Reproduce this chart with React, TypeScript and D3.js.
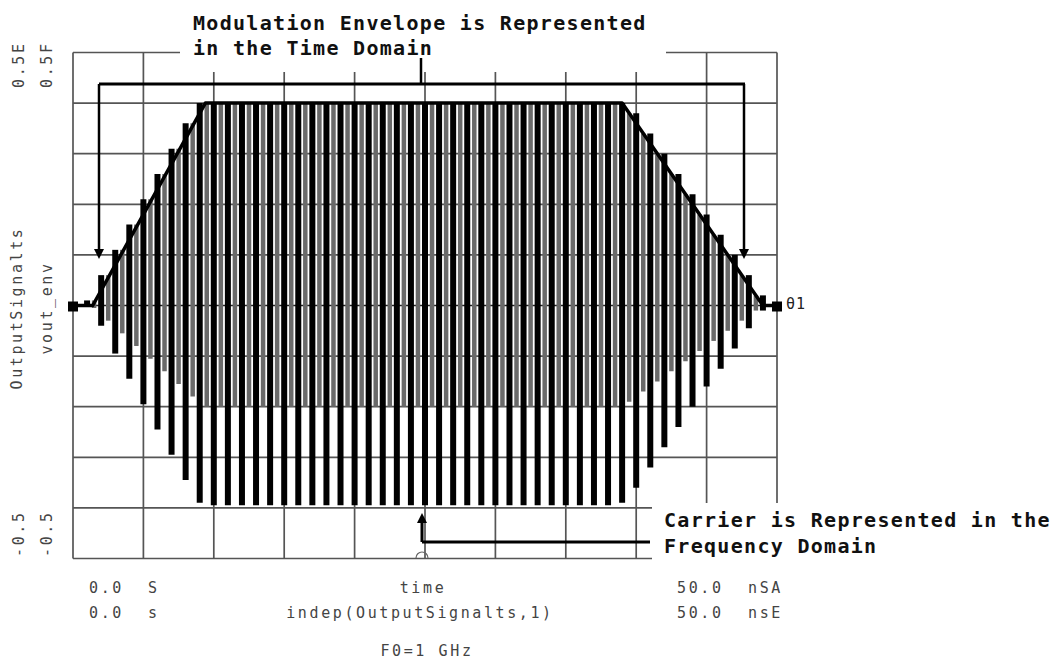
import React from 'react';
import * as d3 from 'd3';

// ---- data ----
const timeDomain = [0, 50]; // ns
const valueDomain = [-0.5, 0.5];
const xGridTicks = [0, 5, 10, 15, 20, 25, 30, 35, 40, 45, 50];
const yGridTicks = [-0.5, -0.4, -0.3, -0.2, -0.1, 0, 0.1, 0.2, 0.3, 0.4, 0.5];

// modulation envelope (|vout_env|) breakpoints
const envTime = [0, 1.4, 9.4, 39, 49, 50];
const envValue = [0, 0, 0.4, 0.4, 0, 0];

// carrier lower peaks, one per ns (t = 0..50)
const lowerPeaks = [
  0, 0, -0.04, -0.095, -0.145, -0.195, -0.245, -0.295, -0.345, -0.39,
  -0.395, -0.395, -0.395, -0.395, -0.395, -0.395, -0.395, -0.395, -0.395, -0.395,
  -0.395, -0.395, -0.395, -0.395, -0.395, -0.395, -0.395, -0.395, -0.395, -0.395,
  -0.395, -0.395, -0.395, -0.395, -0.395, -0.395, -0.395, -0.395, -0.395, -0.39,
  -0.36, -0.32, -0.28, -0.24, -0.2, -0.16, -0.125, -0.085, -0.045, -0.01, 0,
];
// carrier upper peaks, one per ns (t = 0.5..49.5)
const upperPeaks = [
  0, 0.01, 0.06, 0.11, 0.16, 0.21, 0.26, 0.31, 0.36, 0.4,
  0.4, 0.4, 0.4, 0.4, 0.4, 0.4, 0.4, 0.4, 0.4, 0.4,
  0.4, 0.4, 0.4, 0.4, 0.4, 0.4, 0.4, 0.4, 0.4, 0.4,
  0.4, 0.4, 0.4, 0.4, 0.4, 0.4, 0.4, 0.4, 0.4, 0.38,
  0.34, 0.3, 0.26, 0.22, 0.18, 0.14, 0.1, 0.06, 0.02, 0,
];

const markerTimes = [0, 50];

const W = 1055;
const H = 660;
const MONO = "'DejaVu Sans Mono', monospace";

export default function App() {
  const x = d3.scaleLinear().domain(timeDomain).range([73, 777]);
  const y = d3.scaleLinear().domain(valueDomain).range([558.5, 52.5]);

  const envLine = d3
    .line<number>()
    .x((_, i) => x(envTime[i]))
    .y((v) => y(v));

  const gridColor = '#555';
  const labelColor = '#444';

  const blackBars = lowerPeaks.map((lo, k) => {
    const a = k > 0 ? upperPeaks[k - 1] : 0;
    const b = k < upperPeaks.length ? upperPeaks[k] : 0;
    const hi = Math.max(a, b);
    return { t: k, hi, lo };
  });

  const grayBars = upperPeaks.map((hi, k) => ({ t: k + 0.5, hi, lo: -0.5 * hi }));

  const annot = {
    fontFamily: MONO,
    fontWeight: 'bold' as const,
    fontSize: 20,
    letterSpacing: 1.3,
    fill: '#111',
  };
  const lab = {
    fontFamily: MONO,
    fontSize: 15,
    letterSpacing: 2.6,
    fill: labelColor,
  };

  return (
    <svg
      width={W}
      height={H}
      viewBox={`0 0 ${W} ${H}`}
      style={{ position: 'absolute', left: 0, top: 0, background: '#fff' }}
    >
      <rect x={0} y={0} width={W} height={H} fill="#fff" />

      {/* grid */}
      <g stroke={gridColor} strokeWidth={1.7}>
        {xGridTicks.map((t) => (
          <line key={'gx' + t} x1={x(t)} x2={x(t)} y1={y(0.5)} y2={y(-0.5)} />
        ))}
        {yGridTicks.map((v) => (
          <line
            key={'gy' + v}
            x1={x(0)}
            x2={x(50)}
            y1={y(v)}
            y2={y(v)}
            stroke={v === 0 ? '#222' : gridColor}
          />
        ))}
      </g>

      {/* white label boxes hiding grid */}
      <rect x={180} y={0} width={486} height={72} fill="#fff" />
      <rect x={652} y={503} width={W - 652} height={60} fill="#fff" />

      {/* carrier: gray sub-bars */}
      <g stroke="#6a6a6a" strokeWidth={4.5}>
        {grayBars
          .filter((b) => b.hi > 0)
          .map((b) => (
            <line key={'gb' + b.t} x1={x(b.t)} x2={x(b.t)} y1={y(b.hi)} y2={y(b.lo)} />
          ))}
      </g>
      {/* carrier: black bars */}
      <g stroke="#000" strokeWidth={6}>
        {blackBars
          .filter((b) => b.hi > 0 || b.lo < 0)
          .map((b) => (
            <line key={'bb' + b.t} x1={x(b.t)} x2={x(b.t)} y1={y(b.hi)} y2={y(b.lo)} />
          ))}
      </g>

      {/* envelope */}
      <path
        d={envLine(envValue) || ''}
        fill="none"
        stroke="#000"
        strokeWidth={3.5}
        strokeLinejoin="round"
      />

      {/* end markers */}
      {markerTimes.map((t) => (
        <rect key={'m' + t} x={x(t) - 5} y={y(0) - 4} width={10} height={10} fill="#000" />
      ))}
      <text x={786} y={309} fontFamily={MONO} fontSize={15} fill="#222" letterSpacing={1}>
        θ1
      </text>

      {/* modulation envelope annotation */}
      <text x={193} y={30} {...annot}>
        Modulation Envelope is Represented
      </text>
      <text x={193} y={55} {...annot}>
        in the Time Domain
      </text>
      <g stroke="#000" fill="none">
        <line x1={421} x2={421} y1={58} y2={84} strokeWidth={2.5} />
        <line x1={99} x2={745} y1={84} y2={84} strokeWidth={3.2} />
        <line x1={99} x2={99} y1={84} y2={250} strokeWidth={2.5} />
        <line x1={744} x2={744} y1={84} y2={250} strokeWidth={2.5} />
      </g>
      <path d="M94,249 L104,249 L99,259 Z" fill="#000" />
      <path d="M739,249 L749,249 L744,259 Z" fill="#000" />

      {/* carrier annotation */}
      <text x={664} y={527} {...annot}>
        Carrier is Represented in the
      </text>
      <text x={664} y={553} {...annot}>
        Frequency Domain
      </text>
      <g stroke="#000" fill="none">
        <line x1={422} x2={422} y1={542} y2={521} strokeWidth={3} />
        <line x1={422} x2={650} y1={542} y2={542} strokeWidth={3} />
      </g>
      <path d="M417,523 L427,523 L422,513 Z" fill="#000" />
      <path d="M416,558 A6,6 0 0 1 428,558" fill="none" stroke="#666" strokeWidth={1.2} />

      {/* y axis labels (rotated) */}
      <text transform="translate(24,88) rotate(-90)" {...lab}>0.5E</text>
      <text transform="translate(52,88) rotate(-90)" {...lab}>0.5F</text>
      <text transform="translate(24,557) rotate(-90)" {...lab}>-0.5</text>
      <text transform="translate(52,557) rotate(-90)" {...lab}>-0.5</text>
      <text transform="translate(22,308) rotate(-90)" textAnchor="middle" {...lab}>
        OutputSignalts
      </text>
      <text transform="translate(52,308) rotate(-90)" textAnchor="middle" {...lab}>
        vout_env
      </text>

      {/* x axis labels */}
      <text x={89} y={593} {...lab}>0.0</text>
      <text x={148} y={593} {...lab}>S</text>
      <text x={89} y={618} {...lab}>0.0</text>
      <text x={148} y={618} {...lab}>s</text>

      <text x={423} y={593} textAnchor="middle" {...lab}>time</text>
      <text x={420} y={618} textAnchor="middle" {...lab}>indep(OutputSignalts,1)</text>
      <text x={427} y={656} textAnchor="middle" {...lab}>F0=1 GHz</text>

      <text x={677} y={593} {...lab}>50.0</text>
      <text x={748} y={593} {...lab}>nSA</text>
      <text x={677} y={618} {...lab}>50.0</text>
      <text x={748} y={618} {...lab}>nsE</text>
    </svg>
  );
}
